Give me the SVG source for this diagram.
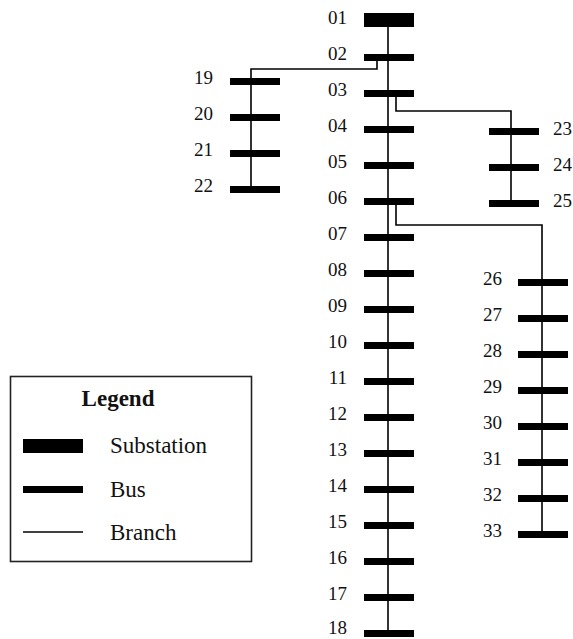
<svg xmlns="http://www.w3.org/2000/svg" width="573" height="639" viewBox="0 0 573 639">
  <style>
    .wire { fill: none; stroke: #000; stroke-width: 1.6; }
    .bus { fill: #000; }
    .lbl { font-family: "Liberation Serif", "Times New Roman", serif; font-size: 19px; fill: #111; }
    .lr { text-anchor: end; }
    .leg { font-family: "Liberation Serif", "Times New Roman", serif; font-size: 23px; fill: #111; }
  </style>
  <rect width="573" height="639" fill="#fff"/>

  <!-- branches -->
  <g id="connectors">
    <path class="wire" d="M388,20 V633"/>
    <path class="wire" d="M377,57 V69 H251 V189"/>
    <path class="wire" d="M396,93 V111 H511 V203"/>
    <path class="wire" d="M396,201 V225 H542 V534"/>
  </g>

  <!-- substation -->
  <g id="bus01">
    <rect class="bus" x="364" y="13" width="50" height="14"/>
    <text class="lbl lr" x="347" y="24">01</text>
  </g>

  <!-- main feeder buses 02-18 -->
  <g id="bus02"><rect class="bus" x="364" y="54" width="50" height="7"/><text class="lbl lr" x="347" y="60">02</text></g>
  <g id="bus03"><rect class="bus" x="364" y="90" width="50" height="7"/><text class="lbl lr" x="347" y="96">03</text></g>
  <g id="bus04"><rect class="bus" x="364" y="126" width="50" height="7"/><text class="lbl lr" x="347" y="132">04</text></g>
  <g id="bus05"><rect class="bus" x="364" y="162" width="50" height="7"/><text class="lbl lr" x="347" y="168">05</text></g>
  <g id="bus06"><rect class="bus" x="364" y="198" width="50" height="7"/><text class="lbl lr" x="347" y="204">06</text></g>
  <g id="bus07"><rect class="bus" x="364" y="234" width="50" height="7"/><text class="lbl lr" x="347" y="240">07</text></g>
  <g id="bus08"><rect class="bus" x="364" y="270" width="50" height="7"/><text class="lbl lr" x="347" y="276">08</text></g>
  <g id="bus09"><rect class="bus" x="364" y="306" width="50" height="7"/><text class="lbl lr" x="347" y="312">09</text></g>
  <g id="bus10"><rect class="bus" x="364" y="342" width="50" height="7"/><text class="lbl lr" x="347" y="348">10</text></g>
  <g id="bus11"><rect class="bus" x="364" y="378" width="50" height="7"/><text class="lbl lr" x="347" y="384">11</text></g>
  <g id="bus12"><rect class="bus" x="364" y="414" width="50" height="7"/><text class="lbl lr" x="347" y="420">12</text></g>
  <g id="bus13"><rect class="bus" x="364" y="450" width="50" height="7"/><text class="lbl lr" x="347" y="456">13</text></g>
  <g id="bus14"><rect class="bus" x="364" y="486" width="50" height="7"/><text class="lbl lr" x="347" y="492">14</text></g>
  <g id="bus15"><rect class="bus" x="364" y="522" width="50" height="7"/><text class="lbl lr" x="347" y="528">15</text></g>
  <g id="bus16"><rect class="bus" x="364" y="558" width="50" height="7"/><text class="lbl lr" x="347" y="564">16</text></g>
  <g id="bus17"><rect class="bus" x="364" y="594" width="50" height="7"/><text class="lbl lr" x="347" y="600">17</text></g>
  <g id="bus18"><rect class="bus" x="364" y="630" width="50" height="7"/><text class="lbl lr" x="347" y="634">18</text></g>

  <!-- lateral 19-22 -->
  <g id="bus19"><rect class="bus" x="230" y="78" width="50" height="7"/><text class="lbl lr" x="213" y="84">19</text></g>
  <g id="bus20"><rect class="bus" x="230" y="114" width="50" height="7"/><text class="lbl lr" x="213" y="120">20</text></g>
  <g id="bus21"><rect class="bus" x="230" y="150" width="50" height="7"/><text class="lbl lr" x="213" y="156">21</text></g>
  <g id="bus22"><rect class="bus" x="230" y="186" width="50" height="7"/><text class="lbl lr" x="213" y="192">22</text></g>

  <!-- lateral 23-25 -->
  <g id="bus23"><rect class="bus" x="489" y="128" width="50" height="7"/><text class="lbl" x="553" y="135">23</text></g>
  <g id="bus24"><rect class="bus" x="489" y="164" width="50" height="7"/><text class="lbl" x="553" y="171">24</text></g>
  <g id="bus25"><rect class="bus" x="489" y="200" width="50" height="7"/><text class="lbl" x="553" y="207">25</text></g>

  <!-- lateral 26-33 -->
  <g id="bus26"><rect class="bus" x="518" y="279" width="50" height="7"/><text class="lbl lr" x="502" y="285">26</text></g>
  <g id="bus27"><rect class="bus" x="518" y="315" width="50" height="7"/><text class="lbl lr" x="502" y="321">27</text></g>
  <g id="bus28"><rect class="bus" x="518" y="351" width="50" height="7"/><text class="lbl lr" x="502" y="357">28</text></g>
  <g id="bus29"><rect class="bus" x="518" y="387" width="50" height="7"/><text class="lbl lr" x="502" y="393">29</text></g>
  <g id="bus30"><rect class="bus" x="518" y="423" width="50" height="7"/><text class="lbl lr" x="502" y="429">30</text></g>
  <g id="bus31"><rect class="bus" x="518" y="459" width="50" height="7"/><text class="lbl lr" x="502" y="465">31</text></g>
  <g id="bus32"><rect class="bus" x="518" y="495" width="50" height="7"/><text class="lbl lr" x="502" y="501">32</text></g>
  <g id="bus33"><rect class="bus" x="518" y="531" width="50" height="7"/><text class="lbl lr" x="502" y="537">33</text></g>

  <!-- legend -->
  <g id="legend">
    <rect x="10.5" y="376.5" width="241" height="185" fill="none" stroke="#222" stroke-width="1.6"/>
    <text class="leg" x="118" y="406" text-anchor="middle" font-weight="bold">Legend</text>
    <rect class="bus" x="23" y="439" width="60" height="14"/>
    <text class="leg" x="110" y="453">Substation</text>
    <rect class="bus" x="23" y="486" width="60" height="7"/>
    <text class="leg" x="110" y="497">Bus</text>
    <line class="wire" x1="23" y1="532" x2="83" y2="532"/>
    <text class="leg" x="110" y="540">Branch</text>
  </g>
</svg>
